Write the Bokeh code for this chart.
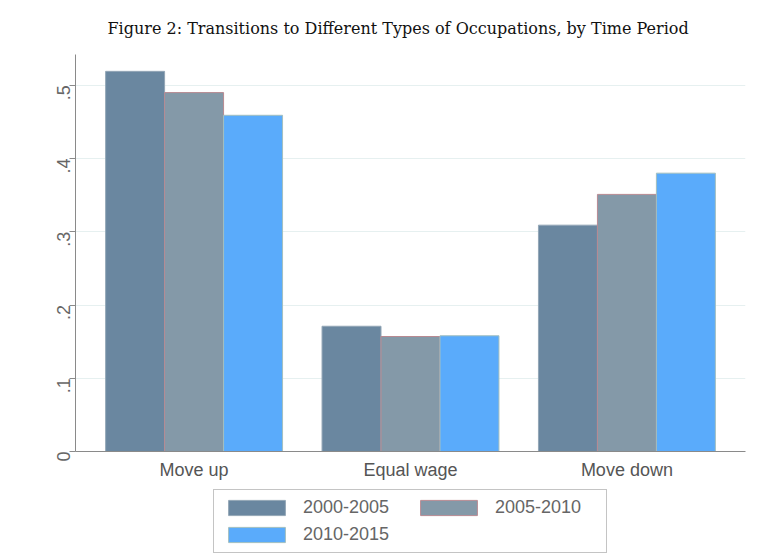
import math
from bokeh.plotting import figure
from bokeh.layouts import column
from bokeh.models import FactorRange, Range1d, FixedTicker, Legend, LegendItem, ColumnDataSource
from bokeh.transform import dodge
from bokeh.embed import file_html
from bokeh.resources import INLINE

# ---- data ----
categories = ["Move up", "Equal wage", "Move down"]
series_names = ["2000-2005", "2005-2010", "2010-2015"]
v_2000_2005 = [0.519, 0.171, 0.309]
v_2005_2010 = [0.490, 0.157, 0.351]
v_2010_2015 = [0.459, 0.158, 0.380]
y_ticks = [0, 0.1, 0.2, 0.3, 0.4, 0.5]
y_tick_labels = ["0", ".1", ".2", ".3", ".4", ".5"]
title_text = "Figure 2: Transitions to Different Types of Occupations, by Time Period"

fills = ["#6a87a0", "#8499a8", "#5aabfb"]
outlines = ["#93a6b6", "#b88a92", "#a3bfbf"]

src = ColumnDataSource(dict(cat=categories, a=v_2000_2005, b=v_2005_2010, c=v_2010_2015))

p = figure(frame_width=670, frame_height=397, output_backend="svg", toolbar_location=None,
           x_range=FactorRange(*categories, range_padding=0.048, range_padding_units="absolute"),
           y_range=Range1d(0, 0.542),
           min_border_left=75, min_border_right=20, min_border_top=53, min_border_bottom=36,
           title=title_text)
p.outline_line_color = None
p.background_fill_color = "white"

bw = 0.2725
offsets = [-bw, 0, bw]
cols = ["a", "b", "c"]
for col, off, fc, lc in zip(cols, offsets, fills, outlines):
    p.vbar(x=dodge("cat", off, range=p.x_range), top=col, width=bw, source=src,
           fill_color=fc, line_color=lc, line_width=1)

# title
p.title.text_font = "DejaVu Serif"
p.title.text_font_size = "16px"
p.title.text_font_style = "normal"
p.title.text_color = "#111111"
p.title.align = "left"
p.title.offset = 32
p.title.standoff = 33

# y axis
ya = p.yaxis[0]
ya.ticker = FixedTicker(ticks=y_ticks)
ya.major_label_overrides = {t: l for t, l in zip(y_ticks, y_tick_labels)}
ya.major_label_orientation = math.pi / 2
ya.major_label_text_font = "Liberation Sans"
ya.major_label_text_font_size = "18px"
ya.major_label_text_color = "#666666"
ya.axis_line_color = "#8a8a8a"
ya.major_tick_line_color = "#8a8a8a"
ya.major_tick_out = 6
ya.major_tick_in = 0
ya.minor_tick_line_color = None
ya.major_label_standoff = 6

# x axis
xa = p.xaxis[0]
xa.major_tick_line_color = None
xa.minor_tick_line_color = None
xa.axis_line_color = "#8a8a8a"
xa.major_label_text_font = "Liberation Sans"
xa.major_label_text_font_size = "18px"
xa.major_label_text_color = "#555555"
xa.major_label_standoff = 2

p.xgrid.grid_line_color = None
p.ygrid.ticker = FixedTicker(ticks=y_ticks)
p.ygrid.grid_line_color = "#e6f0f0"
p.ygrid.grid_line_width = 1

# ---- legend strip (separate figure below the chart) ----
lf = figure(width=765, height=69, output_backend="svg", toolbar_location=None,
            x_axis_type=None, y_axis_type=None,
            x_range=FactorRange(*categories), y_range=Range1d(0, 1),
            min_border=0, min_border_left=0, min_border_right=0,
            min_border_top=0, min_border_bottom=0)
lf.outline_line_color = None
lf.xgrid.grid_line_color = None
lf.ygrid.grid_line_color = None
leg_renderers = []
for col, off, fc, lc in zip(cols, offsets, fills, outlines):
    r = lf.vbar(x=dodge("cat", off, range=lf.x_range), top=col, width=bw, source=src,
                fill_color=fc, line_color=lc, line_width=1, visible=False)
    leg_renderers.append(r)

legend = Legend(items=[LegendItem(label=n, renderers=[r]) for n, r in zip(series_names, leg_renderers)],
                ncols=2, location=(138, 3), orientation="horizontal")
legend.glyph_width = 71
legend.glyph_height = 19
legend.label_width = 104
legend.label_standoff = 11
legend.spacing = 6
legend.padding = 7
legend.margin = 0
legend.border_line_color = "#8a8a8a"
legend.border_line_width = 1
legend.label_text_font = "Liberation Sans"
legend.label_text_font_size = "18px"
legend.label_text_color = "#666666"
legend.background_fill_color = "white"
legend.inactive_fill_alpha = 0
lf.add_layout(legend, "center")

layout = column(p, lf, spacing=0)
open("out.html", "w").write(file_html(layout, INLINE))
